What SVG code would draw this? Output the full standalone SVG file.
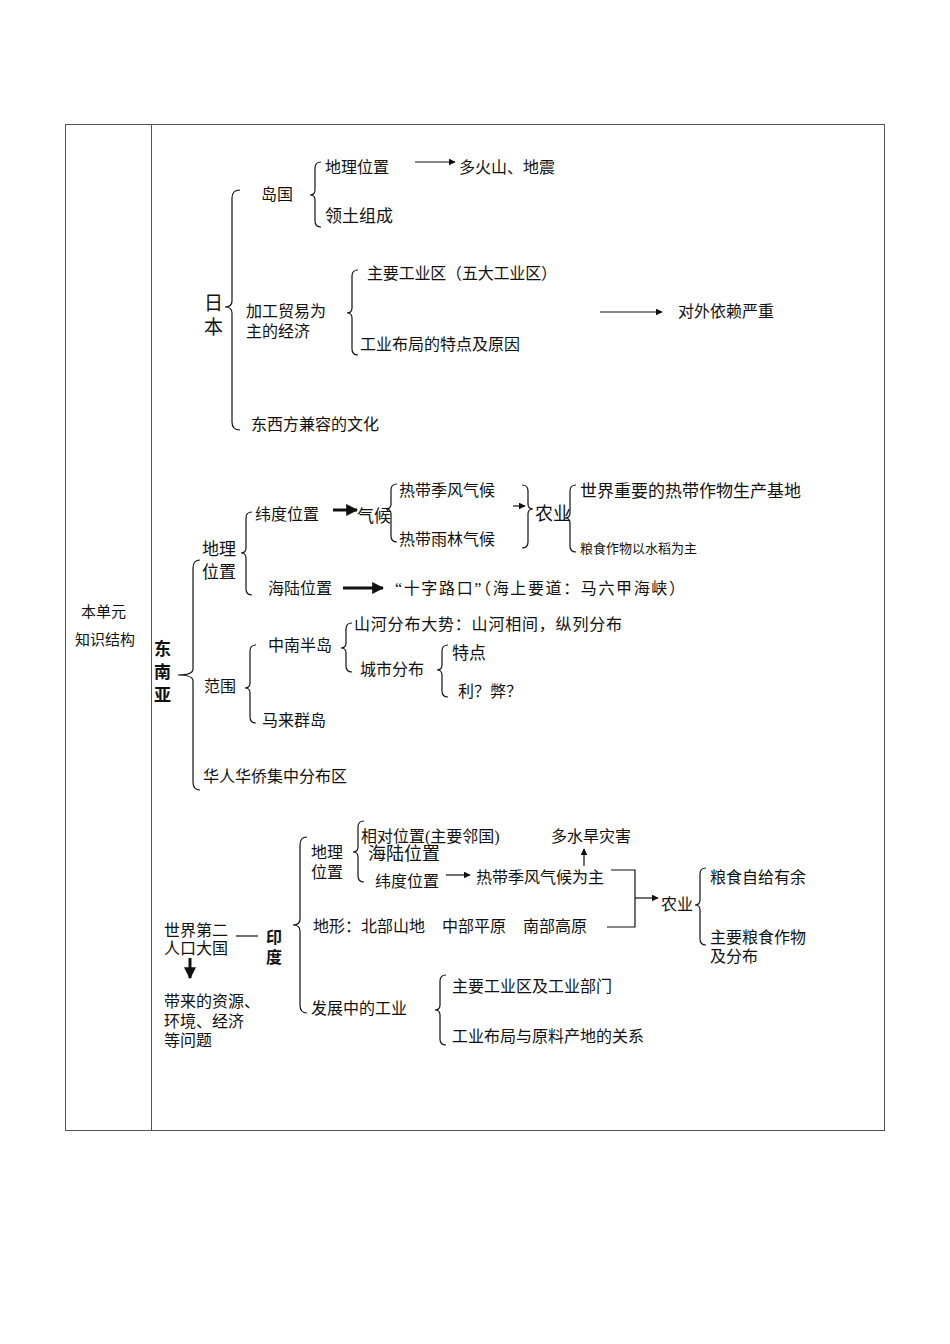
<svg xmlns="http://www.w3.org/2000/svg" width="950" height="1344" viewBox="0 0 950 1344">
<defs>
<style>
text{font-family:"Liberation Serif","Noto Sans CJK SC",serif;font-size:16px;fill:#111}
.b{font-weight:bold}
.br,.ln{fill:none;stroke:#111;stroke-width:1.2}
.th{stroke-width:3}
</style>
<marker id="a" viewBox="0 0 10 10" refX="9" refY="5" markerWidth="7" markerHeight="7" markerUnits="userSpaceOnUse" orient="auto"><path d="M0 0L10 5L0 10z" fill="#111"/></marker>
<marker id="a2" viewBox="0 0 10 10" refX="9" refY="5" markerWidth="4" markerHeight="4" orient="auto"><path d="M0 0L10 5L0 10z" fill="#111"/></marker>
</defs>
<rect x="0" y="0" width="950" height="1344" fill="#fff"/>
<g id="table" fill="none" stroke="#555" stroke-width="1"><rect x="65.5" y="124.5" width="819" height="1006"/><line x1="151.5" y1="124" x2="151.5" y2="1130"/></g>
<g id="left"><text x="81" y="617" style="font-size:15px">本单元</text><text x="75" y="645" style="font-size:15px">知识结构</text></g>
<g id="connectors">
<path class="br" d="M240 190Q232 190 232 198L232 301Q232 307 225 307Q232 307 232 313L232 422Q232 430 240 430"/>
<path class="br" d="M321 162Q315 162 315 168L315 190Q315 195 310 195Q315 195 315 200L315 221Q315 227 321 227"/>
<path class="br" d="M358 270Q352 270 352 276L352 308Q352 313 347 313Q352 313 352 318L352 349Q352 355 358 355"/>
<path class="br" d="M200 560Q193 560 193 568L193 669Q193 675 178 675Q193 675 193 681L193 782Q193 790 200 790"/>
<path class="br" d="M252 512Q246 512 246 518L246 548Q246 553 241 553Q246 553 246 558L246 589Q246 595 252 595"/>
<path class="br" d="M397 484Q391 484 391 490L391 504Q391 509 386 509Q391 509 391 514L391 536Q391 542 397 542"/>
<path class="br" d="M522 485Q528 485 528 491L528 504Q528 509 533 509Q528 509 528 514L528 542Q528 548 522 548"/>
<path class="br" d="M576 485Q570 485 570 491L570 513Q570 518 565 518Q570 518 570 523L570 546Q570 552 576 552"/>
<path class="br" d="M256 645Q250 645 250 651L250 683Q250 688 245 688Q250 688 250 693L250 717Q250 723 256 723"/>
<path class="br" d="M352 623Q346 623 346 629L346 643Q346 648 341 648Q346 648 346 653L346 666Q346 672 352 672"/>
<path class="br" d="M448 645Q442 645 442 651L442 665Q442 670 437 670Q442 670 442 675L442 691Q442 697 448 697"/>
<path class="br" d="M307 837Q300 837 300 845L300 919Q300 925 293 925Q300 925 300 931L300 1005Q300 1013 307 1013"/>
<path class="br" d="M364 821Q358 821 358 827L358 847Q358 852 353 852Q358 852 358 857L358 876Q358 882 364 882"/>
<path class="br" d="M706 868Q700 868 700 874L700 900Q700 905 695 905Q700 905 700 910L700 939Q700 945 706 945"/>
<path class="br" d="M446 975Q440 975 440 981L440 1005Q440 1010 435 1010Q440 1010 440 1015L440 1039Q440 1045 446 1045"/>
<line class="ln" x1="415" y1="162" x2="455" y2="162" marker-end="url(#a)"/>
<line class="ln" x1="600" y1="312" x2="662" y2="312" marker-end="url(#a)"/>
<line class="ln th" x1="333" y1="510" x2="357" y2="510" marker-end="url(#a2)"/>
<line class="ln" x1="513" y1="506" x2="525" y2="506" marker-end="url(#a)"/>
<line class="ln th" x1="343" y1="588" x2="383" y2="588" marker-end="url(#a2)"/>
<line class="ln" x1="446" y1="875" x2="470" y2="875" marker-end="url(#a)"/>
<line class="ln" x1="584" y1="866" x2="584" y2="849" marker-end="url(#a)"/>
<path class="ln" d="M611 870H635V927H607"/>
<line class="ln" x1="635" y1="898" x2="658" y2="898" marker-end="url(#a)"/>
<line class="ln" x1="236" y1="936" x2="258" y2="936"/>
<line class="ln th" x1="190" y1="958" x2="190" y2="978" marker-end="url(#a2)"/>
</g>
<g id="japan">
<text x="204" y="310" style="font-size:19px">日</text><text x="204" y="334" style="font-size:19px">本</text>
<text x="261" y="200">岛国</text>
<text x="325" y="173">地理位置</text><text x="459" y="173">多火山、地震</text>
<text x="325" y="222" style="font-size:17px">领土组成</text>
<text x="246" y="317">加工贸易为</text><text x="246" y="337">主的经济</text>
<text x="367" y="279" textLength="190" lengthAdjust="spacing">主要工业区（五大工业区）</text>
<text x="360" y="350">工业布局的特点及原因</text>
<text x="678" y="317">对外依赖严重</text>
<text x="251" y="430">东西方兼容的文化</text>
</g>
<g id="sea">
<text class="b" x="154" y="655" style="font-size:17px">东</text><text class="b" x="154" y="678" style="font-size:17px">南</text><text class="b" x="154" y="701" style="font-size:17px">亚</text>
<text x="202" y="555" style="font-size:17px">地理</text><text x="202" y="578" style="font-size:17px">位置</text>
<text x="255" y="520">纬度位置</text><text x="357" y="522" style="font-size:17px">气候</text>
<text x="399" y="496">热带季风气候</text><text x="399" y="545">热带雨林气候</text>
<text x="535" y="520" style="font-size:18px">农业</text>
<text x="580" y="497" style="font-size:17px">世界重要的热带作物生产基地</text>
<text x="580" y="553" style="font-size:13px">粮食作物以水稻为主</text>
<text x="268" y="594">海陆位置</text>
<text x="395" y="594" textLength="290" lengthAdjust="spacing">“十字路口”（海上要道：马六甲海峡）</text>
<text x="204" y="692">范围</text>
<text x="268" y="651">中南半岛</text>
<text x="354" y="630" textLength="268" lengthAdjust="spacing">山河分布大势：山河相间，纵列分布</text>
<text x="360" y="675">城市分布</text>
<text x="452" y="659" style="font-size:17px">特点</text>
<text x="458" y="697">利？弊？</text>
<text x="262" y="726">马来群岛</text>
<text x="203" y="782">华人华侨集中分布区</text>
</g>
<g id="india">
<text x="164" y="936">世界第二</text><text x="164" y="954">人口大国</text>
<text class="b" x="266" y="943" style="font-size:16px">印</text><text class="b" x="266" y="963" style="font-size:16px">度</text>
<text x="164" y="1007">带来的资源、</text><text x="164" y="1027">环境、经济</text><text x="164" y="1046">等问题</text>
<text x="311" y="858">地理</text><text x="311" y="878">位置</text>
<text x="361" y="842">相对位置(主要邻国)</text>
<text x="368" y="860" style="font-size:18px">海陆位置</text>
<text x="375" y="887">纬度位置</text>
<text x="476" y="883">热带季风气候为主</text>
<text x="551" y="842">多水旱灾害</text>
<text x="313" y="932">地形：北部山地</text><text x="442" y="932">中部平原</text><text x="523" y="932">南部高原</text>
<text x="661" y="910">农业</text>
<text x="710" y="883">粮食自给有余</text>
<text x="710" y="943">主要粮食作物</text><text x="710" y="962">及分布</text>
<text x="311" y="1014">发展中的工业</text>
<text x="452" y="992">主要工业区及工业部门</text>
<text x="452" y="1042">工业布局与原料产地的关系</text>
</g>
</svg>
